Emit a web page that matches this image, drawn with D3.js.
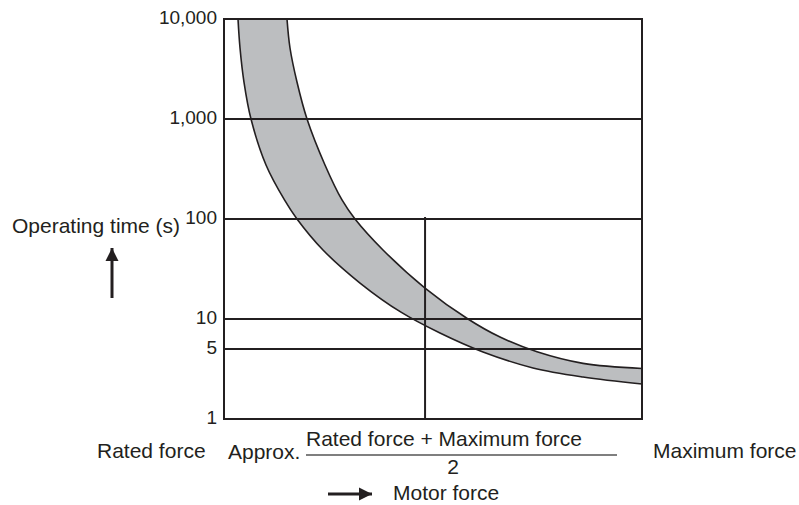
<!DOCTYPE html>
<html>
<head>
<meta charset="utf-8">
<script src="https://cdn.jsdelivr.net/npm/d3@7"></script>
<style>
  html, body { margin: 0; padding: 0; background: #fff; }
  svg { display: block; font-family: "Liberation Sans", Arial, Helvetica, sans-serif; }
</style>
</head>
<body>
<svg id="chart" width="799" height="505"></svg>
<script>
// ---- Data ----
// x: motor force, % of the span from rated force (0) to maximum force (100)
// y: operating time in seconds (log scale)
const yTickValues = [1, 5, 10, 100, 1000, 10000];
const yTickLabels = ["1", "5", "10", "100", "1,000", "10,000"];
const gridValues = [5, 10, 100, 1000];

// lower (left) boundary of the band
const lowerForce = [3.35, 3.83, 4.78, 6.46, 10.05, 14.47, 17.46, 23.68, 32.54, 42.34, 51.67, 61.96, 73.92, 85.89, 100];
const lowerTime  = [10000, 5129, 2344, 1000, 347, 155, 100, 49, 22.9, 11.7, 7.24, 4.68, 3.24, 2.63, 2.24];
// upper (right) boundary of the band
const upperForce = [15.07, 15.79, 17.46, 19.86, 24.16, 28.23, 31.34, 38.04, 48.09, 58.37, 66.03, 74.88, 85.89, 100];
const upperTime  = [10000, 5129, 2344, 1000, 347, 155, 100, 49, 20.4, 10, 6.6, 4.7, 3.6, 3.2];

// marker line at approx. (rated + maximum) / 2
const midForce = 48.1;
const midTimeTop = 100;

const xLabelLeft = "Rated force";
const xLabelApprox = "Approx.";
const xLabelNumerator = "Rated force + Maximum force";
const xLabelDenominator = "2";
const xLabelRight = "Maximum force";
const xAxisTitle = "Motor force";
const yAxisTitle = "Operating time (s)";

// ---- Layout ----
const ink = "#231f20";
const plot = { left: 224, right: 642, top: 19, bottom: 419 };

const svg = d3.select("#chart");
const defs = svg.append("defs");
defs.append("marker")
  .attr("id", "arrowHead")
  .attr("viewBox", "0 0 10 10")
  .attr("refX", 10).attr("refY", 5)
  .attr("markerWidth", 4.4).attr("markerHeight", 4.4)
  .attr("markerUnits", "strokeWidth")
  .attr("orient", "auto")
  .append("path")
  .attr("d", "M0,0 L10,5 L0,10 Z")
  .attr("fill", ink);

const x = d3.scaleLinear().domain([0, 100]).range([plot.left, plot.right]);
const y = d3.scaleLog().domain([1, 10000]).range([plot.bottom, plot.top]);

// ---- Band ----
const lower = lowerForce.map((f, i) => [f, lowerTime[i]]);
const upper = upperForce.map((f, i) => [f, upperTime[i]]);
const lineGen = d3.line()
  .x(d => x(d[0]))
  .y(d => y(d[1]))
  .curve(d3.curveCatmullRom.alpha(0.5));
const bandPath = lineGen(lower) + lineGen(upper.slice().reverse()).replace(/^M/, "L") + "Z";

svg.append("path")
  .attr("d", bandPath)
  .attr("fill", "#bcbec0")
  .attr("stroke", ink)
  .attr("stroke-width", 1.6)
  .attr("stroke-linejoin", "round");

// ---- Grid lines ----
svg.append("g").selectAll("line")
  .data(gridValues)
  .join("line")
  .attr("x1", plot.left).attr("x2", plot.right)
  .attr("y1", d => y(d)).attr("y2", d => y(d))
  .attr("stroke", ink)
  .attr("stroke-width", 2);

// vertical marker line
svg.append("line")
  .attr("x1", x(midForce)).attr("x2", x(midForce))
  .attr("y1", y(midTimeTop) - 2).attr("y2", plot.bottom)
  .attr("stroke", ink)
  .attr("stroke-width", 2);

// frame
svg.append("rect")
  .attr("x", plot.left).attr("y", plot.top)
  .attr("width", plot.right - plot.left)
  .attr("height", plot.bottom - plot.top)
  .attr("fill", "none")
  .attr("stroke", ink)
  .attr("stroke-width", 2);

// ---- Y axis tick labels ----
const yAxis = d3.axisLeft(y)
  .tickValues(yTickValues)
  .tickFormat((d, i) => yTickLabels[i])
  .tickSize(0)
  .tickPadding(7);
const yAxisG = svg.append("g")
  .attr("transform", `translate(${plot.left},0)`)
  .call(yAxis);
yAxisG.select(".domain").remove();
yAxisG.selectAll("text")
  .attr("font-family", "'Liberation Sans', Arial, sans-serif")
  .attr("font-size", 19)
  .attr("fill", ink)
  .attr("dy", "0.25em");

// ---- Axis titles & labels ----
const txt = (s, xx, yy, anchor = "start", size = 21) =>
  svg.append("text")
    .attr("x", xx).attr("y", yy)
    .attr("text-anchor", anchor)
    .attr("font-size", size)
    .attr("fill", ink)
    .text(s);

txt(yAxisTitle, 12, 233);
svg.append("line")
  .attr("x1", 112).attr("x2", 112)
  .attr("y1", 298).attr("y2", 248)
  .attr("stroke", ink).attr("stroke-width", 3)
  .attr("marker-end", "url(#arrowHead)");

txt(xLabelLeft, 97, 458);
txt(xLabelApprox, 228, 459);
txt(xLabelNumerator, 306, 446);
svg.append("line")
  .attr("x1", 306).attr("x2", 617)
  .attr("y1", 455).attr("y2", 455)
  .attr("stroke", "#555").attr("stroke-width", 1.3);
txt(xLabelDenominator, 453, 474, "middle");
txt(xLabelRight, 653, 458);

txt(xAxisTitle, 393, 500);
svg.append("line")
  .attr("x1", 328).attr("x2", 372)
  .attr("y1", 494).attr("y2", 494)
  .attr("stroke", ink).attr("stroke-width", 3)
  .attr("marker-end", "url(#arrowHead)");
</script>
</body>
</html>
